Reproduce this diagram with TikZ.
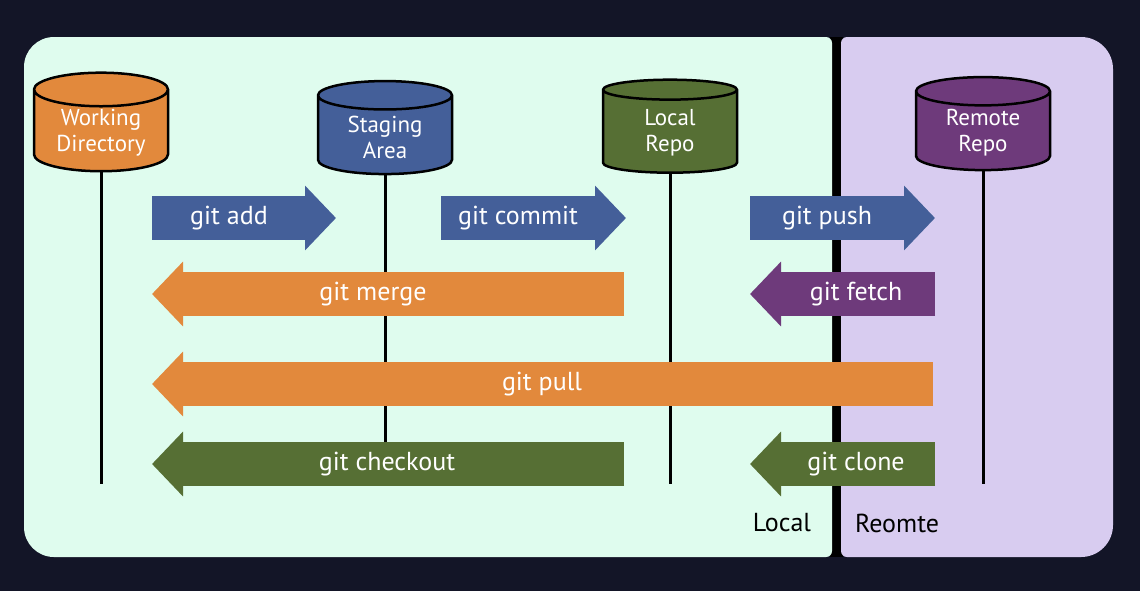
\documentclass[tikz,border=0pt]{standalone}
\usepackage{fontspec}
\setmainfont{PT Sans}
\usetikzlibrary{shapes.geometric, arrows.meta, positioning}
\definecolor{navybg}{HTML}{131527}
\definecolor{localbg}{HTML}{DFFCEE}
\definecolor{remotebg}{HTML}{D8CCF0}
\definecolor{gitorange}{HTML}{E2893C}
\definecolor{gitblue}{HTML}{445F99}
\definecolor{gitgreen}{HTML}{566F34}
\definecolor{gitpurple}{HTML}{6E3A7B}
\tikzset{
  repo/.style={cylinder, shape border rotate=90, aspect=0.36, draw=black, line width=1.25pt,
    minimum width=67pt, minimum height=46.5pt, inner sep=1pt, text=white, align=center,
    font=\fontsize{11.5}{13}\selectfont},
  lifeline/.style={line width=1.5pt},
  gitarrow/.style={line width=22pt, -{Triangle[length=15.5pt, width=31.5pt]}},
  gitlabel/.style={text=white, font=\fontsize{13}{15}\selectfont},
  sidelabel/.style={text=black, font=\fontsize{13}{15}\selectfont}
}

\begin{document}
\begin{tikzpicture}[x=0.5pt, y=-0.5pt]
  % Background and the two panels
  \fill[navybg] (0,0) rectangle (1140,591);
  \fill[black] (830,37) rectangle (843,557);
  \fill[localbg, rounded corners=15pt] (430,37) -- (24,37) -- (24,557) -- (430,557)
    [rounded corners=3pt] -- (832,557) -- (832,37) -- cycle;
  \fill[remotebg, rounded corners=3pt] (980,557) -- (841,557) -- (841,37) -- (980,37)
    [rounded corners=16pt] -- (1113,37) -- (1113,557) -- cycle;

  % Repositories
  \node[repo, fill=gitorange] (wd) at (101,133) {Working\\Directory};
  \node[repo, fill=gitblue] (stage) at (385,137) {Staging\\Area};
  \node[repo, fill=gitgreen] (local) at (670,133) {Local\\Repo};
  \node[repo, fill=gitpurple] (remote) at (983,133) {Remote\\Repo};

  % Lifelines
  \coordinate (lifeend) at (0,484);
  \foreach \repo in {wd, stage, local, remote}
    \draw[lifeline] (\repo.south) -- (\repo.south |- lifeend);

  % Commands
  \draw[gitarrow, gitblue] (152,218) -- (336,218);
  \node[gitlabel] (add) at (229,218) {git add};
  \draw[gitarrow, gitblue] (441,218) -- (626,218);
  \node[gitlabel] (commit) at (518,218) {git commit};
  \draw[gitarrow, gitblue] (750,218) -- (935,218);
  \node[gitlabel] (push) at (827,218) {git push};

  \draw[gitarrow, gitorange] (624,294) -- (152,294);
  \node[gitlabel] (merge) at (373,294) {git merge};
  \draw[gitarrow, gitpurple] (935,294) -- (750,294);
  \node[gitlabel] (fetch) at (856,294) {git fetch};

  \draw[gitarrow, gitorange] (933,384) -- (152,384);
  \node[gitlabel] (pull) at (542,384) {git pull};

  \draw[gitarrow, gitgreen] (624,464) -- (152,464);
  \node[gitlabel] (checkout) at (387,464) {git checkout};
  \draw[gitarrow, gitgreen] (935,464) -- (750,464);
  \node[gitlabel] (clone) at (856,464) {git clone};

  % Side labels
  \node[sidelabel] (locallbl) at (782,523) {Local};
  \node[sidelabel] (remotelbl) at (897,523) {Reomte};
\end{tikzpicture}
\end{document}
